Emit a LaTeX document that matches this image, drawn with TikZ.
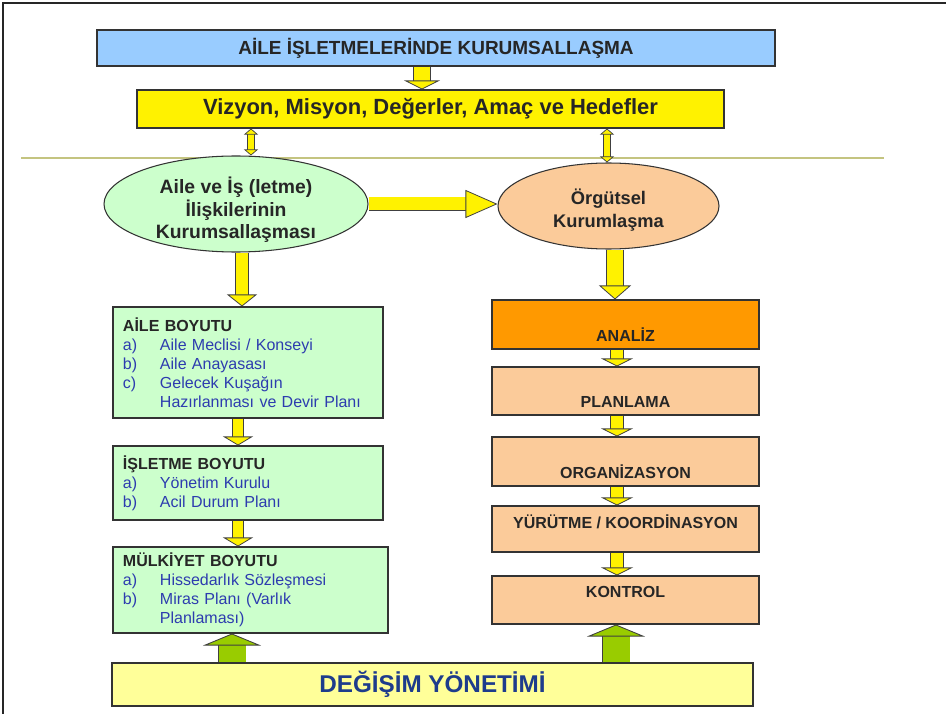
\documentclass[tikz,border=0pt]{standalone}
\usepackage{fontspec}
\setmainfont{Liberation Sans}
\usetikzlibrary{shapes.geometric,arrows.meta}

\definecolor{skyblue}{RGB}{153,204,255}
\definecolor{mintgreen}{RGB}{204,255,204}
\definecolor{peach}{RGB}{251,203,154}
\definecolor{deeporange}{RGB}{255,153,0}
\definecolor{paleyellow}{RGB}{255,255,153}
\definecolor{leafgreen}{RGB}{153,204,0}
\definecolor{rulegreen}{RGB}{196,196,128}
\definecolor{itemblue}{RGB}{45,60,175}
\definecolor{navytext}{RGB}{30,60,140}

\newcommand{\boyutitem}[2]{{\color{itemblue}\makebox[7.4mm][l]{#1}#2}}

\begin{document}
\begin{tikzpicture}[x=0.2mm, y=-0.2mm,
  box/.style={draw=black!80, line width=0.6pt, inner sep=0pt, text=black!85},
  lbox/.style={box, fill=mintgreen, minimum height=#1, text width=50mm, inner xsep=2mm, align=left,
    font=\fontsize{9.1}{10.8}\selectfont},
  rbox/.style={box, fill=peach, minimum width=53.4mm, minimum height=#1},
  rtext/.style={font=\bfseries\fontsize{9.1}{10}\selectfont, text=black!85},
  etext/.style={align=center, text=black!85},
  yarrow/.style n args={3}{draw=black!75, line width=0.45pt, double=yellow, double distance=#1,
    -{Triangle[width=#2, length=#3, fill=yellow]}},
  ydouble/.style={draw=black!75, line width=0.4pt, double=yellow, double distance=1.2mm,
    {Triangle[width=2.8mm, length=1.2mm, fill=yellow]}-{Triangle[width=2.8mm, length=1.2mm, fill=yellow]}},
  garrow/.style={draw=black!75, line width=0.5pt, double=leafgreen, double distance=5.4mm,
    -{Triangle[width=11.6mm, length=2.4mm, fill=leafgreen]}}]

\useasboundingbox (0, 0) rectangle (946, 714);
\draw [line width=0.9pt, black!85] (3, 714) -- (3, 3) -- (946, 3);
\draw [line width=1.7pt, rulegreen] (21, 158) -- (884, 158);

\node [box, fill=skyblue, minimum width=135.6mm, minimum height=7.2mm,
  font=\bfseries\fontsize{10.8}{12}\selectfont] (kurum) at (436, 48) {AİLE İŞLETMELERİNDE KURUMSALLAŞMA};
\node [box, fill=yellow, minimum width=117.4mm, minimum height=7.6mm,
  font=\bfseries\fontsize{12.5}{14}\selectfont] (vizyon) at (430.5, 109) {Vizyon, Misyon, Değerler, Amaç ve Hedefler};

\node [box, ellipse, fill=mintgreen, minimum width=52.8mm, minimum height=19.2mm,
  label={[etext, yshift=-1.2mm, font=\bfseries\fontsize{11}{12.8}\selectfont]center:Aile ve İş (letme)\\İlişkilerinin\\Kurumsallaşması}]
  (iliski) at (236, 204) {};
\node [box, ellipse, fill=peach, minimum width=44.2mm, minimum height=17.2mm,
  label={[etext, yshift=-0.8mm, font=\bfseries\fontsize{10.4}{13}\selectfont]center:Örgütsel\\Kurumlaşma}]
  (orgut) at (608.5, 206) {};

\node [lbox=22.2mm] (aile) at (248, 362.5) {{\bfseries AİLE BOYUTU}\\
  \boyutitem{a)}{Aile Meclisi / Konseyi}\\
  \boyutitem{b)}{Aile Anayasası}\\
  \boyutitem{c)}{Gelecek Kuşağın}\\
  \boyutitem{}{Hazırlanması ve Devir Planı}};
\node [lbox=14.8mm] (isletme) at (248, 483) {{\bfseries İŞLETME BOYUTU}\\
  \boyutitem{a)}{Yönetim Kurulu}\\
  \boyutitem{b)}{Acil Durum Planı}};
\node [lbox=17.2mm, text width=51mm] (mulk) at (250.5, 590) {{\bfseries MÜLKİYET BOYUTU}\\
  \boyutitem{a)}{Hissedarlık Sözleşmesi}\\
  \boyutitem{b)}{Miras Planı (Varlık}\\
  \boyutitem{}{Planlaması)}};

\node [rbox=9.8mm, fill=deeporange, label={[rtext, yshift=-2.1mm]center:ANALİZ}] (analiz) at (625.5, 324.5) {};
\node [rbox=9.6mm, label={[rtext, yshift=-2.2mm]center:PLANLAMA}] (plan) at (625.5, 391) {};
\node [rbox=9.8mm, label={[rtext, yshift=-2.1mm]center:ORGANİZASYON}] (organ) at (625.5, 461.5) {};
\node [rbox=9.2mm, label={[rtext, yshift=1.4mm]center:YÜRÜTME / KOORDİNASYON}] (yurutme) at (625.5, 529) {};
\node [rbox=9.6mm, label={[rtext, yshift=1.6mm]center:KONTROL}] (kontrol) at (625.5, 600) {};

\node [box, fill=paleyellow, minimum width=128.2mm, minimum height=8.6mm, text=navytext,
  font=\bfseries\fontsize{13.8}{15}\selectfont] (degisim) at (432.5, 684.5) {DEĞİŞİM YÖNETİMİ};

\coordinate (colA) at (422, 0);
\coordinate (colB) at (251, 0);
\coordinate (colC) at (607, 0);
\coordinate (colD) at (242, 0);
\coordinate (colE) at (615, 0);
\coordinate (colF) at (238, 0);
\coordinate (colG) at (617, 0);
\coordinate (colH) at (232, 0);
\coordinate (colI) at (616, 0);

\draw [yarrow={3.2mm}{7.2mm}{1.8mm}] (kurum.south -| colA) -- (vizyon.north -| colA);
\draw [ydouble] (vizyon.south -| colB) -- (iliski.north -| colB);
\draw [ydouble] (vizyon.south -| colC) -- (orgut.north -| colC);

\draw [yarrow={2.6mm}{5.6mm}{6.4mm}] (iliski.east) -- (orgut.west |- iliski.east);
\draw [yarrow={2.4mm}{6mm}{2.4mm}] (iliski.south -| colD) -- (aile.north -| colD);
\draw [yarrow={3.2mm}{6.4mm}{2.8mm}] (orgut.south -| colE) -- (analiz.north -| colE);

\draw [yarrow={2mm}{6mm}{1.8mm}] (aile.south -| colF) -- (isletme.north -| colF);
\draw [yarrow={2mm}{6mm}{1.8mm}] (isletme.south -| colF) -- (mulk.north -| colF);

\draw [yarrow={2.4mm}{6.4mm}{1.6mm}] (analiz.south -| colG) -- (plan.north -| colG);
\draw [yarrow={2.4mm}{6.4mm}{1.6mm}] (plan.south -| colG) -- (organ.north -| colG);
\draw [yarrow={2.4mm}{6.4mm}{1.6mm}] (organ.south -| colG) -- (yurutme.north -| colG);
\draw [yarrow={2.4mm}{6.4mm}{1.6mm}] (yurutme.south -| colG) -- (kontrol.north -| colG);

\draw [garrow] (degisim.north -| colH) -- (mulk.south -| colH);
\draw [garrow] (degisim.north -| colI) -- (kontrol.south -| colI);
\end{tikzpicture}
\end{document}
